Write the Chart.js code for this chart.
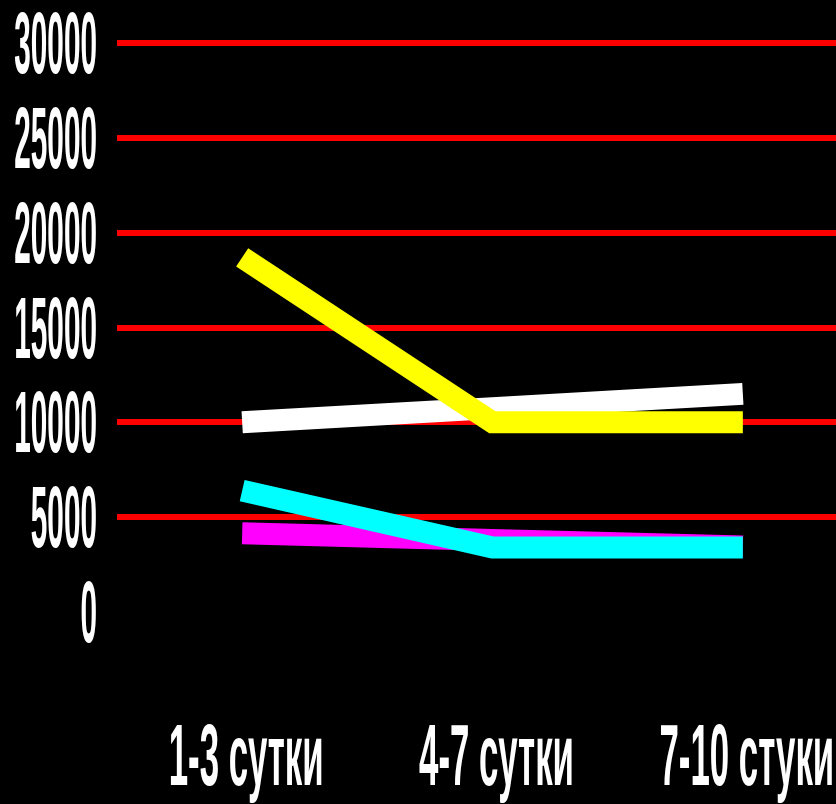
<!DOCTYPE html>
<html>
<head>
<meta charset="utf-8">
<script src="https://cdn.jsdelivr.net/npm/chart.js@4/dist/chart.umd.min.js"></script>
<style>
  html, body { margin: 0; padding: 0; background: #000; overflow: hidden; }
  #wrap { width: 870px; height: 804px; }
</style>
</head>
<body>
<div id="wrap"><canvas id="chart-area" width="870" height="804"></canvas></div>
<script>
const categories = ['1-3 сутки', '4-7 сутки', '7-10 стуки'];
const yellowSeries = [18700, 10000, 10000];
const whiteSeries = [10000, 10750, 11500];
const cyanSeries = [6400, 3400, 3400];
const magentaSeries = [4150, 3800, 3450];
const yTicks = [0, 5000, 10000, 15000, 20000, 25000, 30000];

const labelFont = 'bold 87px "Liberation Sans Narrow", "Liberation Sans", sans-serif';
const squeezeY = 0.342;
const squeezeX = 0.40;

// axis labels are drawn narrow and tall, so they are painted here by hand
const squeezedLabels = {
  id: 'squeezedLabels',
  afterDraw(chart) {
    const ctx = chart.ctx;
    const x = chart.scales.x, y = chart.scales.y;
    ctx.save();
    ctx.font = labelFont;
    ctx.fillStyle = '#fff';
    ctx.textBaseline = 'alphabetic';
    yTicks.forEach(function(v) {
      const py = y.getPixelForValue(v);
      ctx.save();
      ctx.translate(97, py + 30);
      ctx.scale(squeezeY, 1);
      ctx.textAlign = 'right';
      ctx.fillText(String(v), 0, 0);
      ctx.restore();
    });
    categories.forEach(function(c, i) {
      const px = x.getPixelForValue(i);
      ctx.save();
      ctx.translate(px + 4, 785);
      ctx.scale(squeezeX, 1);
      ctx.textAlign = 'center';
      ctx.fillText(c, 0, 0);
      ctx.restore();
    });
    ctx.restore();
  }
};

function lineSet(label, values, color) {
  return {
    label: label,
    data: values,
    borderColor: color,
    backgroundColor: color,
    borderWidth: 22,
    borderCapStyle: 'butt',
    borderJoinStyle: 'miter',
    pointRadius: 0,
    tension: 0,
    fill: false
  };
}

window.onload = function() {
  let ctx = document.getElementById('chart-area').getContext('2d');
  new Chart(ctx, {
    type: 'line',
    data: {
      labels: categories,
      datasets: [
        lineSet('Ряд 1', yellowSeries, '#ffff00'),
        lineSet('Ряд 2', whiteSeries, '#ffffff'),
        lineSet('Ряд 3', cyanSeries, '#00ffff'),
        lineSet('Ряд 4', magentaSeries, '#ff00ff')
      ]
    },
    options: {
      responsive: false,
      animation: false,
      layout: { padding: { left: 117, right: 2, top: 43, bottom: 192 } },
      plugins: { legend: { display: false }, tooltip: { enabled: false } },
      scales: {
        x: {
          offset: true,
          grid: { display: false, drawTicks: false },
          border: { display: false },
          ticks: { display: false }
        },
        y: {
          min: 0,
          max: 30000,
          ticks: { display: false, stepSize: 5000 },
          border: { display: false },
          grid: {
            drawTicks: false,
            lineWidth: 6,
            color: function(c) { return c.tick && c.tick.value === 0 ? 'rgba(0,0,0,0)' : '#ff0000'; }
          }
        }
      }
    },
    plugins: [squeezedLabels]
  });
};
</script>
</body>
</html>
